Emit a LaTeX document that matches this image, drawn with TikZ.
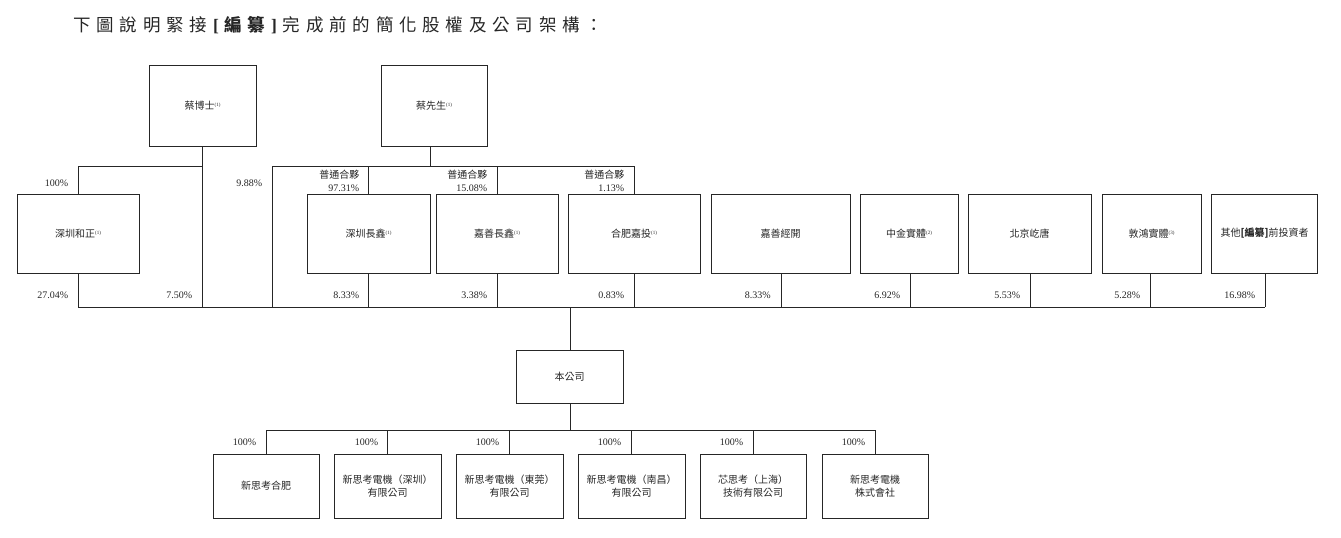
\documentclass[tikz,border=0pt]{standalone}
\usepackage{fontspec}
\setmainfont{Liberation Serif}
\newfontfamily\cjk{Noto Sans CJK TC}
\newcommand\fnr[1]{\raisebox{3.2pt}{\rmfamily\fontsize{5}{5}\selectfont(#1)}}
\newcommand\tg{\hspace{5.8pt}}
\begin{document}
\begin{tikzpicture}[x=1pt,y=-1pt,
  box/.style={draw=black!85,line width=0.8pt,inner sep=0pt,align=center,
    text=black!85,font=\cjk\fontsize{10}{13}\selectfont},
  toprow/.style={box,minimum height=81pt},
  midrow/.style={box,minimum height=79pt},
  subrow/.style={box,minimum height=64pt},
  pct/.style={anchor=east,inner sep=0pt,text=black!85,font=\fontsize{10}{12}\selectfont},
  gp/.style={anchor=east,inner sep=0pt,text=black!85,align=right,font=\fontsize{10}{13}\selectfont},
  ln/.style={draw=black!85,line width=0.8pt}]
\useasboundingbox (0,0) rectangle (1341,538);

% title
\node[anchor=west,inner sep=0pt,text=black!85,font=\cjk\fontsize{17.5}{20}\selectfont] (title) at (73,25.5)
 {下\tg{}圖\tg{}說\tg{}明\tg{}緊\tg{}接\tg{}{\rmfamily\bfseries[}\tg{}{\bfseries 編}\tg{}{\bfseries 纂}\tg{}{\rmfamily\bfseries]}\tg{}完\tg{}成\tg{}前\tg{}的\tg{}簡\tg{}化\tg{}股\tg{}權\tg{}及\tg{}公\tg{}司\tg{}架\tg{}構\tg{}：};

% bus coordinates
\coordinate (busA) at (0,166);
\coordinate (busB) at (0,307);
\coordinate (busC) at (0,430);

% top row
\node[toprow,minimum width=107pt] (bs) at (202.5,105.5) {蔡博士\fnr{1}};
\node[toprow,minimum width=106pt] (xs) at (434,105.5) {蔡先生\fnr{1}};

% middle row
\node[midrow,minimum width=122pt] (hz) at (78,233.5) {深圳和正\fnr{1}};
\node[midrow,minimum width=123pt] (cc) at (368.5,233.5) {深圳長鑫\fnr{1}};
\node[midrow,minimum width=122pt] (jc) at (497,233.5) {嘉善長鑫\fnr{1}};
\node[midrow,minimum width=132pt] (hf) at (634,233.5) {合肥嘉投\fnr{1}};
\node[midrow,minimum width=139pt] (jk) at (780.5,233.5) {嘉善經開};
\node[midrow,minimum width=98pt] (zj) at (909,233.5) {中金實體\fnr{2}};
\node[midrow,minimum width=123pt] (bj) at (1029.5,233.5) {北京屹唐};
\node[midrow,minimum width=99pt] (dh) at (1151.5,233.5) {敦鴻實體\fnr{3}};
\node[midrow,minimum width=106pt] (qt) at (1264.5,233.5) {其他{\bfseries[編纂]}前投資者};

% company
\node[box,minimum width=107pt,minimum height=53pt] (co) at (569.5,376.5) {本公司};

% subsidiaries
\node[subrow,minimum width=106pt] (s1) at (266,486) {新思考合肥};
\node[subrow,minimum width=107pt] (s2) at (387.5,486) {新思考電機（深圳）\\有限公司};
\node[subrow,minimum width=107pt] (s3) at (509.5,486) {新思考電機（東莞）\\有限公司};
\node[subrow,minimum width=107pt] (s4) at (631.5,486) {新思考電機（南昌）\\有限公司};
\node[subrow,minimum width=106pt] (s5) at (753,486) {芯思考（上海）\\技術有限公司};
\node[subrow,minimum width=106pt] (s6) at (875,486) {新思考電機\\株式會社};

% connectors: 蔡博士
\draw[ln] (bs.south) -- (bs.south |- busB);
\draw[ln] (hz.north |- busA) -- (bs.south |- busA);
\draw[ln] (hz.north |- busA) -- (hz.north);
\draw[ln] (hz.south) -- (hz.south |- busB);

% connectors: 蔡先生
\coordinate (xsdrop) at (430,146);
\coordinate (gpl) at (272,166);
\draw[ln] (xsdrop) -- (xsdrop |- busA);
\draw[ln] (gpl) -- (hf.north |- busA);
\draw[ln] (gpl) -- (gpl |- busB);
\draw[ln] (cc.north |- busA) -- (cc.north);
\draw[ln] (jc.north |- busA) -- (jc.north);
\draw[ln] (hf.north |- busA) -- (hf.north);

% middle row down to bus
\coordinate (jkd) at (781,273);
\coordinate (zjd) at (910,273);
\coordinate (bjd) at (1030,273);
\coordinate (dhd) at (1150,273);
\coordinate (qtd) at (1265,273);
\draw[ln] (cc.south) -- (cc.south |- busB);
\draw[ln] (jc.south) -- (jc.south |- busB);
\draw[ln] (hf.south) -- (hf.south |- busB);
\draw[ln] (jkd) -- (jkd |- busB);
\draw[ln] (zjd) -- (zjd |- busB);
\draw[ln] (bjd) -- (bjd |- busB);
\draw[ln] (dhd) -- (dhd |- busB);
\draw[ln] (qtd) -- (qtd |- busB);
\draw[ln] (hz.south |- busB) -- (qtd |- busB);

% company
\coordinate (coup) at (570,350);
\coordinate (codown) at (570,403);
\draw[ln] (coup |- busB) -- (coup);
\draw[ln] (codown) -- (codown |- busC);
\draw[ln] (s1.north |- busC) -- (s6.north |- busC);
\foreach \s in {s1,s2,s3,s4,s5,s6}
  \draw[ln] (\s.north |- busC) -- (\s.north);

% percentage labels, upper
\node[pct] (p100a) at (68.5,183) {100\%};
\node[pct] (p988) at (262.5,183) {9.88\%};
\node[gp] (g1) at (359.5,180.5) {{\cjk 普通合夥}\\97.31\%};
\node[gp] (g2) at (487.5,180.5) {{\cjk 普通合夥}\\15.08\%};
\node[gp] (g3) at (624.5,180.5) {{\cjk 普通合夥}\\1.13\%};

% percentage labels, lower
\node[pct] (l1) at (68.5,295) {27.04\%};
\node[pct] (l2) at (192.5,295) {7.50\%};
\node[pct] (l3) at (359.5,295) {8.33\%};
\node[pct] (l4) at (487.5,295) {3.38\%};
\node[pct] (l5) at (624.5,295) {0.83\%};
\node[pct] (l6) at (771,295) {8.33\%};
\node[pct] (l7) at (900.5,295) {6.92\%};
\node[pct] (l8) at (1020.5,295) {5.53\%};
\node[pct] (l9) at (1140.5,295) {5.28\%};
\node[pct] (l10) at (1255.5,295) {16.98\%};

% subsidiary labels
\node[pct] (q1) at (256.5,442) {100\%};
\node[pct] (q2) at (378.5,442) {100\%};
\node[pct] (q3) at (499.5,442) {100\%};
\node[pct] (q4) at (621.5,442) {100\%};
\node[pct] (q5) at (743.5,442) {100\%};
\node[pct] (q6) at (865.5,442) {100\%};
\end{tikzpicture}
\end{document}
